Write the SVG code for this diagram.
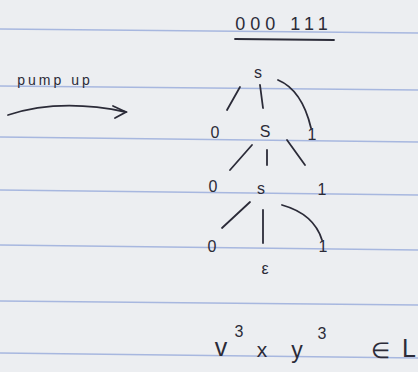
<svg xmlns="http://www.w3.org/2000/svg" width="418" height="372" viewBox="0 0 418 372">
<style>
.rule{stroke:#a7b7df;stroke-width:1.6;fill:none}
.ink{stroke:#2b2b38;stroke-width:1.8;fill:none;stroke-linecap:round}
.t{font-family:"Liberation Sans",Arial,sans-serif;fill:#2b2b38;text-anchor:middle}
.n{font-size:16px}
</style>
<rect width="418" height="372" fill="#eceef1"/>
<g id="rules">
<line class="rule" x1="0" y1="29" x2="418" y2="33"/>
<line class="rule" x1="0" y1="86" x2="418" y2="90"/>
<line class="rule" x1="0" y1="137" x2="418" y2="142"/>
<line class="rule" x1="0" y1="190" x2="418" y2="195"/>
<line class="rule" x1="0" y1="245" x2="418" y2="250"/>
<line class="rule" x1="0" y1="301" x2="418" y2="305"/>
<line class="rule" x1="0" y1="353" x2="418" y2="358"/>
</g>
<g id="title">
<text class="t" x="284" y="30" font-size="18" letter-spacing="5">000 111</text>
<line class="ink" x1="235" y1="39" x2="334" y2="40" stroke-width="2.5"/>
</g>
<g id="pump">
<text class="t" x="55" y="85" font-size="14" letter-spacing="3">pump up</text>
<path class="ink" d="M8,115 Q60,98 126,112"/>
<path class="ink" d="M113,106 L126,112 L115,118"/>
</g>
<g id="connectors">
<path class="ink" d="M240,87 L227,110"/>
<path class="ink" d="M260,85 L263,108"/>
<path class="ink" d="M278,80 Q302,90 311,128"/>
<path class="ink" d="M252,145 L230,170"/>
<path class="ink" d="M267,150 L267,165"/>
<path class="ink" d="M287,140 L305,165"/>
<path class="ink" d="M250,202 L222,228"/>
<path class="ink" d="M263,210 L263,243"/>
<path class="ink" d="M282,205 Q314,214 322,240"/>
</g>
<g id="n-root"><text class="t n" x="258" y="78" font-size="17">s</text></g>
<g id="n-0a"><text class="t n" x="215" y="138">0</text></g>
<g id="n-S1"><text class="t n" x="265" y="137" font-size="18">S</text></g>
<g id="n-1a"><text class="t n" x="312" y="140">1</text></g>
<g id="n-0b"><text class="t n" x="213" y="192">0</text></g>
<g id="n-S2"><text class="t n" x="261" y="194" font-size="17">s</text></g>
<g id="n-1b"><text class="t n" x="322" y="195">1</text></g>
<g id="n-0c"><text class="t n" x="212" y="252">0</text></g>
<g id="n-1c"><text class="t n" x="323" y="252">1</text></g>
<g id="n-eps"><text class="t n" x="265" y="274" font-size="17">ε</text></g>
<g id="result">
<text class="t" x="221" y="356" font-size="25">v</text>
<text class="t" x="239" y="337" font-size="16">3</text>
<text class="t" x="262" y="357" font-size="21">x</text>
<text class="t" x="297" y="358" font-size="23">y</text>
<text class="t" x="322" y="339" font-size="16">3</text>
<text class="t" x="380" y="358" font-size="22">∈</text>
<text class="t" x="409" y="357" font-size="25">L</text>
</g>
</svg>
